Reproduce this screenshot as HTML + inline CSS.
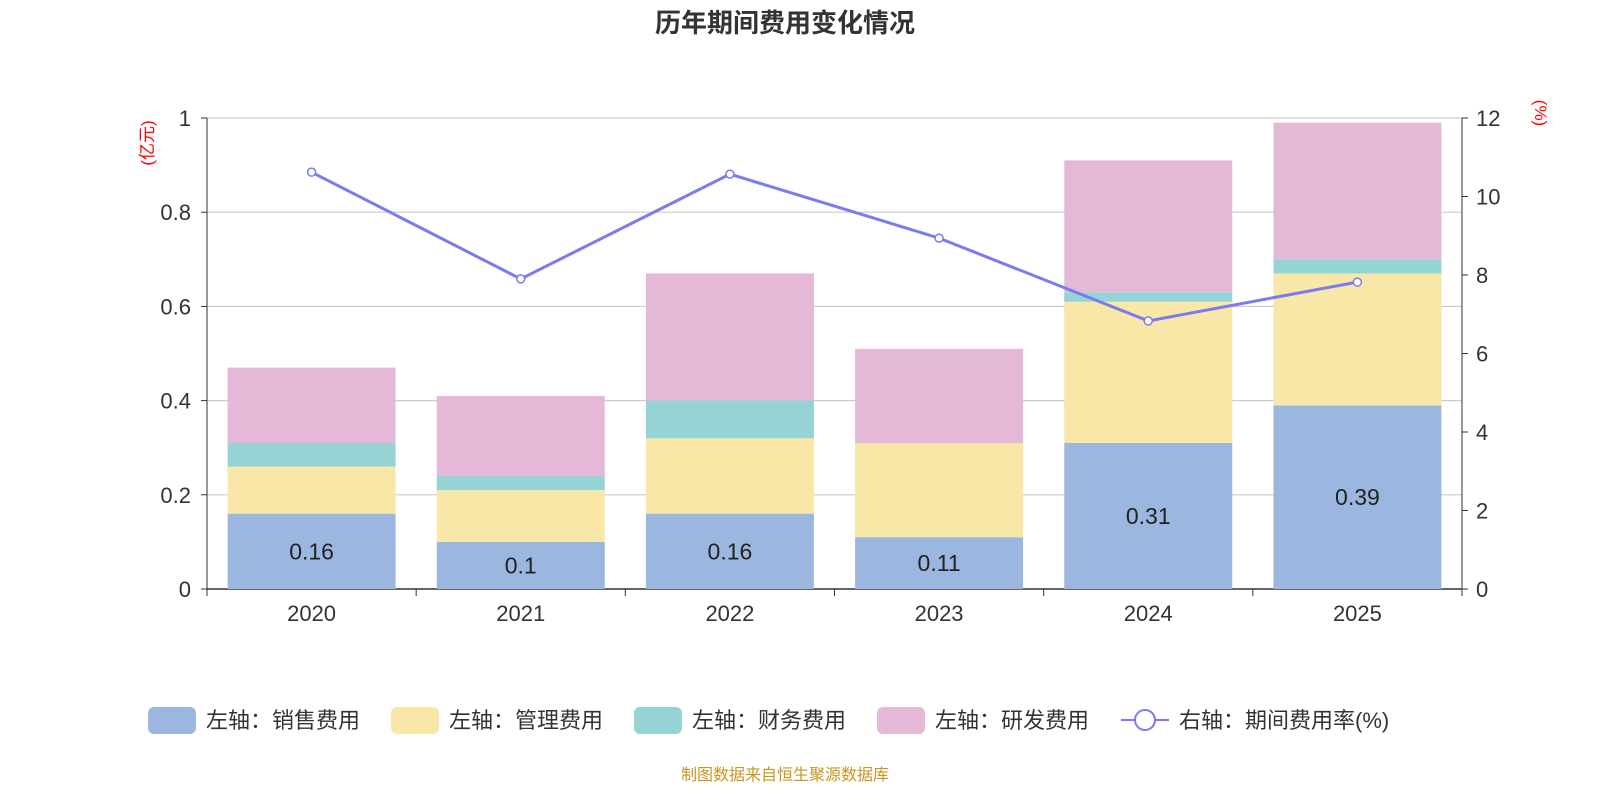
<!DOCTYPE html>
<html><head><meta charset="utf-8"><style>
body{margin:0;background:#fff;width:1600px;height:800px;overflow:hidden;font-family:"Liberation Sans","Noto Sans CJK SC",sans-serif}
</style></head><body>
<svg id="chart" width="1600" height="800" xmlns="http://www.w3.org/2000/svg" font-family="Liberation Sans, Noto Sans CJK SC, sans-serif"></svg>
<script>
const categories=['2020','2021','2022','2023','2024','2025'];
const sales=[0.16,0.10,0.16,0.11,0.31,0.39];
const mgmt=[0.10,0.11,0.16,0.20,0.30,0.28];
const fin=[0.05,0.03,0.08,0.00,0.02,0.03];
const rd=[0.16,0.17,0.27,0.20,0.28,0.29];
const rate=[10.62,7.90,10.57,8.94,6.83,7.82];
const leftTicks=[0,0.2,0.4,0.6,0.8,1];
const rightTicks=[0,2,4,6,8,10,12];
const seriesNames=['左轴：销售费用','左轴：管理费用','左轴：财务费用','左轴：研发费用'];
const colors=['#9bb7e0','#f8e7a7','#96d3d4','#e6b8d8'];
const NS='http://www.w3.org/2000/svg';
const svg=document.getElementById('chart');
const X0=207,X1=1462,Y0=589,Y1=118;
const band=(X1-X0)/categories.length;
const yL=v=>Y0-(v/1)*(Y0-Y1);
const yR=v=>Y0-(v/12)*(Y0-Y1);
const xC=i=>X0+band*(i+0.5);
function mk(tag,attrs,txt){const e=document.createElementNS(NS,tag);for(const k in attrs)e.setAttribute(k,attrs[k]);if(txt!==undefined)e.textContent=txt;svg.appendChild(e);return e;}
let t=mk('text',{x:785,y:32,'text-anchor':'middle','font-size':26,'font-weight':'bold',fill:'#333'},'历年期间费用变化情况');


leftTicks.forEach(v=>{
 const g=mk('line',{x1:X0,x2:X1,y1:yL(v),y2:yL(v),stroke:v===0?'#333':'#ccc','stroke-width':v===0?1.5:1.2});
 
 
 const l=mk('text',{x:X0-16,y:yL(v)+8,'text-anchor':'end','font-size':22,fill:'#333'},String(v));
 
 
 mk('line',{x1:X0-6,x2:X0,y1:yL(v),y2:yL(v),stroke:'#333'});
});
rightTicks.forEach(v=>{
 const l=mk('text',{x:X1+14,y:yR(v)+8,'font-size':22,fill:'#333'},String(v));
 
 
 mk('line',{x1:X1,x2:X1+6,y1:yR(v),y2:yR(v),stroke:'#333'});
});
mk('line',{x1:X0,x2:X0,y1:Y1,y2:Y0,stroke:'#333'});
mk('line',{x1:X1,x2:X1,y1:Y1,y2:Y0,stroke:'#333'});
for(let i=0;i<=categories.length;i++)mk('line',{x1:X0+band*i,x2:X0+band*i,y1:Y0,y2:Y0+7,stroke:'#333'});
let a=mk('text',{x:0,y:0,'font-size':17,fill:'red','text-anchor':'middle',transform:'translate(153,143) rotate(-90)'},'(亿元)');

a=mk('text',{x:0,y:0,'font-size':17,fill:'red','text-anchor':'middle',transform:'translate(1535,113) rotate(90)'},'(%)');

const stacks=[sales,mgmt,fin,rd];
categories.forEach((c,i)=>{
 const lab=mk('text',{x:xC(i),y:Y0+32,'text-anchor':'middle','font-size':22,fill:'#333'},c);
 
 
 let base=0;
 stacks.forEach((s,k)=>{
  const v=s[i];
  if(v>0){
   const r=mk('rect',{x:xC(i)-84,width:168,y:yL(base+v),height:yL(base)-yL(base+v),fill:colors[k]});
   
   
  }
  if(k===0){
   const vl=mk('text',{x:xC(i),y:(yL(0)+yL(v))/2+8,'text-anchor':'middle','font-size':23,fill:'#222'},String(v));
   
   
  }
  base+=v;
 });
});
const pts=rate.map((v,i)=>xC(i)+','+yR(v)).join(' ');
const pl=mk('polyline',{points:pts,fill:'none',stroke:'#7b7bef','stroke-width':3});


rate.forEach((v,i)=>{
 const p=mk('circle',{cx:xC(i),cy:yR(v),r:4,fill:'#fff',stroke:'#7b7bef','stroke-width':1.5});
 
 
});
const lx=[148,391,634,877];
seriesNames.forEach((n,k)=>{
 const r=mk('rect',{x:lx[k],y:707,width:48,height:27,rx:6,fill:colors[k]});
 
 
 const tt=mk('text',{x:lx[k]+58,y:728,'font-size':22,fill:'#333'},n);
 
 
});
mk('line',{x1:1121,x2:1169,y1:720,y2:720,stroke:'#7b7bef','stroke-width':2});
const lc=mk('circle',{cx:1145,cy:720,r:10,fill:'#fff',stroke:'#7b7bef','stroke-width':2});


const lt=mk('text',{x:1179,y:728,'font-size':22,fill:'#333'},'右轴：期间费用率(%)');


const f=mk('text',{x:785,y:780,'text-anchor':'middle','font-size':16,fill:'#c8961e'},'制图数据来自恒生聚源数据库');


</script>
</body></html>
